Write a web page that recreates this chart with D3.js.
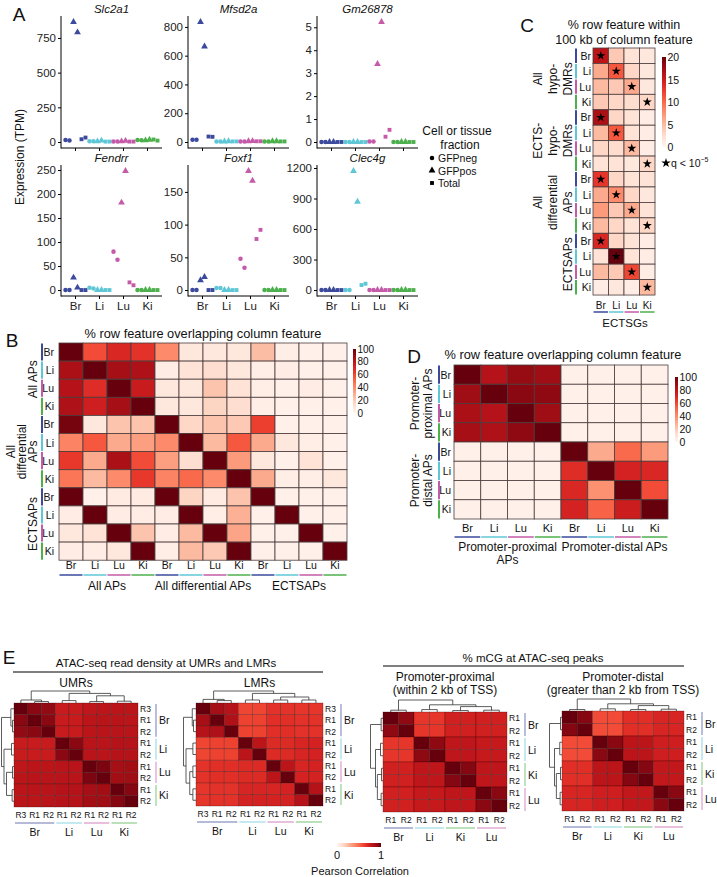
<!DOCTYPE html>
<html><head><meta charset="utf-8">
<script src="https://cdn.jsdelivr.net/npm/d3@7"></script>
<style>body{margin:0;background:#fff} svg{font-family:"Liberation Sans",Arial,Helvetica,sans-serif}</style>
</head><body><svg id="fig" width="717" height="877"></svg>
<script>
// ---------------- DATA ----------------
const tissues = ["Br","Li","Lu","Ki"];
const tissueColors = {Br:"#3b4a9c", Li:"#5ec7d6", Lu:"#c45aa8", Ki:"#4cb04c"};
const fractions = ["GFPneg","GFPpos","Total"];
const sampleFraction = [0,0,1,1,2,2];   // two replicates of each fraction per tissue
const genes = ["Slc2a1","Mfsd2a","Gm26878","Fendrr","Foxf1","Clec4g"];
// per tissue: [GFPneg, GFPneg, GFPpos, GFPpos, Total, Total] (TPM)
const exprSlc2a1  = [[15,10,865,790,20,32],[6,5,5,10,3,3],[4,4,5,8,3,3],[14,12,12,16,18,10]];
const exprMfsd2a  = [[15,15,834,664,38,36],[4,4,4,5,4,4],[4,4,5,6,5,5],[4,4,5,5,4,4]];
const exprGm26878 = [[0,0,0,0,0,0],[0,0,0,0,0,0],[0.02,0.02,3.4,5.23,0.23,0.53],[0,0,0,0,0,0]];
const exprFendrr  = [[0,0,26,5,0,0],[5,3,0,0,0,0],[80,63,182,248,16,10],[0,0,0,0,0,0]];
const exprFoxf1   = [[0,0,15,20,0,0],[3,3,0,0,0,0],[48,34,182,167,78,92],[0,0,0,0,0,0]];
const exprClec4g  = [[0,0,0,0,0,0],[0,0,1171,869,49,62],[0,0,0,0,0,0],[0,0,0,0,0,0]];
const exprTicks = [[0,250,500,750],[0,200,400,600,800],[0,1,2,3,4,5],[0,50,100,150,200,250],[0,50,100,150],[0,300,600,900,1200]];

// Panel B (% row feature overlapping column feature)
const bGroups = ["All APs","All differential APs","ECTSAPs"];
const bValues = [
  [100,58,70,66, 40,8,8,8, 24,4,3,3],
  [85,100,86,84, 5,10,12,8, 4,5,3,3],
  [82,68,100,76, 8,8,22,10, 4,3,5,3],
  [84,74,86,100, 8,8,16,12, 4,3,3,3],
  [97,8,22,22, 100,15,22,20, 62,3,3,3],
  [42,55,30,34, 40,100,25,55, 30,8,4,3],
  [64,30,85,58, 34,12,100,35, 8,3,10,3],
  [46,25,40,64, 42,50,40,100, 30,4,4,8],
  [100,3,6,6, 100,16,6,22, 100,3,3,3],
  [5,100,5,5, 5,100,4,28, 3,100,3,3],
  [8,10,100,22, 5,25,100,32, 3,3,100,3],
  [5,5,8,100, 4,25,20,100, 3,3,3,100]
];
const bTicks = [0,20,40,60,80,100];

// Panel C (% row feature within 100 kb of column feature), columns = ECTSGs
const cValues = [
  [16,4,2,1.5],[6,11,3,1.5],[5,4,6,1.5],[4,3,2.5,3],
  [17,3,2,1],[5,11,2,1],[3,2.5,5,1],[2,2,1.5,3],
  [13,3,2,2],[6,8,3,1.5],[7,4,6,2],[5,3,2,3],
  [14,3,2,1],[2,20,2,1],[5,4,12,1],[1,1.5,1,5]
];
const cStars = [[0,0],[1,1],[2,2],[3,3],[4,0],[5,1],[6,2],[7,3],[8,0],[9,1],[10,2],[11,3],[12,0],[13,1],[14,2],[15,3]];
const cTicks = [0,5,10,15,20];

// Panel D
const dValues = [
  [100,82,90,88, 3,3,3,3],
  [88,100,93,92, 3,3,3,3],
  [85,82,100,88, 3,3,3,3],
  [86,84,92,100, 3,3,3,3],
  [3,3,3,3, 100,30,50,35],
  [3,3,3,3, 68,100,72,70],
  [3,3,3,3, 70,38,100,58],
  [3,3,3,3, 72,52,75,100]
];
const dTicks = [0,20,40,60,80,100];

// Panel E (Pearson correlations)
const umrLabels = ["R3","R1","R2","R1","R2","R1","R2","R1","R2"];
const umrGroups = [["Br",0,2],["Li",3,4],["Lu",5,6],["Ki",7,8]];
const umrCorr = [
  [1.00,0.93,0.91,0.76,0.76,0.79,0.80,0.80,0.80],
  [0.93,1.00,0.93,0.76,0.76,0.80,0.81,0.81,0.80],
  [0.91,0.93,1.00,0.76,0.76,0.80,0.81,0.81,0.81],
  [0.76,0.76,0.76,1.00,0.93,0.81,0.81,0.82,0.82],
  [0.76,0.76,0.76,0.93,1.00,0.81,0.81,0.82,0.82],
  [0.79,0.80,0.80,0.81,0.81,1.00,0.96,0.86,0.87],
  [0.80,0.81,0.81,0.81,0.81,0.96,1.00,0.87,0.88],
  [0.80,0.81,0.81,0.82,0.82,0.86,0.87,1.00,0.94],
  [0.80,0.80,0.81,0.82,0.82,0.87,0.88,0.94,1.00]
];
const lmrCorr = [
  [1.00,0.86,0.82,0.60,0.60,0.66,0.66,0.65,0.65],
  [0.86,1.00,0.84,0.61,0.61,0.67,0.67,0.66,0.66],
  [0.82,0.84,1.00,0.61,0.61,0.67,0.67,0.66,0.66],
  [0.60,0.61,0.61,1.00,0.80,0.69,0.69,0.71,0.72],
  [0.60,0.61,0.61,0.80,1.00,0.69,0.69,0.71,0.72],
  [0.66,0.67,0.67,0.69,0.69,1.00,0.80,0.71,0.72],
  [0.66,0.67,0.67,0.69,0.69,0.80,1.00,0.72,0.72],
  [0.65,0.66,0.66,0.71,0.71,0.71,0.72,1.00,0.82],
  [0.65,0.66,0.66,0.72,0.72,0.72,0.72,0.82,1.00]
];
const mcgLabels = ["R1","R2","R1","R2","R1","R2","R1","R2"];
const mcgGroups = [["Br",0,1],["Li",2,3],["Ki",4,5],["Lu",6,7]];
const proxCorr = [
  [1.00,0.92,0.65,0.65,0.73,0.73,0.73,0.73],
  [0.92,1.00,0.65,0.65,0.73,0.73,0.73,0.73],
  [0.65,0.65,1.00,0.92,0.79,0.79,0.77,0.77],
  [0.65,0.65,0.92,1.00,0.79,0.79,0.77,0.77],
  [0.73,0.73,0.79,0.79,1.00,0.94,0.79,0.79],
  [0.73,0.73,0.79,0.79,0.94,1.00,0.79,0.79],
  [0.73,0.73,0.77,0.77,0.79,0.79,1.00,0.93],
  [0.73,0.73,0.77,0.77,0.79,0.79,0.93,1.00]
];
const distCorr = [
  [1.00,0.94,0.58,0.58,0.67,0.67,0.71,0.71],
  [0.94,1.00,0.58,0.58,0.67,0.67,0.71,0.71],
  [0.58,0.58,1.00,0.93,0.80,0.80,0.74,0.74],
  [0.58,0.58,0.93,1.00,0.80,0.80,0.74,0.74],
  [0.67,0.67,0.80,0.80,1.00,0.94,0.78,0.78],
  [0.67,0.67,0.80,0.80,0.94,1.00,0.78,0.78],
  [0.71,0.71,0.74,0.74,0.78,0.78,1.00,0.93],
  [0.71,0.71,0.74,0.74,0.78,0.78,0.93,1.00]
];
// dendrograms: leaves = indices, nodes = {h, c:[left,right]}
const umrTree = {h:1, c:[{h:0.25,c:[0,{h:0.12,c:[1,2]}]},{h:0.8,c:[{h:0.2,c:[3,4]},{h:0.6,c:[{h:0.12,c:[5,6]},{h:0.15,c:[7,8]}]}]}]};
const lmrTree = {h:1, c:[{h:0.3,c:[0,{h:0.2,c:[1,2]}]},{h:0.8,c:[{h:0.25,c:[3,4]},{h:0.5,c:[{h:0.25,c:[5,6]},{h:0.25,c:[7,8]}]}]}]};
const proxTree = {h:1, c:[{h:0.15,c:[0,1]},{h:0.6,c:[{h:0.2,c:[2,3]},{h:0.45,c:[{h:0.12,c:[4,5]},{h:0.15,c:[6,7]}]}]}]};
const distTree = {h:1, c:[{h:0.12,c:[0,1]},{h:0.6,c:[{h:0.18,c:[2,3]},{h:0.45,c:[{h:0.12,c:[4,5]},{h:0.15,c:[6,7]}]}]}]};

// ---------------- HELPERS ----------------
const fig = d3.select("#fig");
const defs = fig.append("defs");
const FONT = '"Liberation Sans",Arial,Helvetica,sans-serif';
function txt(g, x, y, s, o = {}) {
  const t = g.append("text").attr("x", x).attr("y", y).text(s)
    .attr("font-size", o.size || 10).attr("text-anchor", o.anchor || "middle")
    .attr("dominant-baseline", o.baseline || "central").attr("fill", o.fill || "#111");
  if (o.italic) t.attr("font-style", "italic");
  if (o.rotate) t.attr("transform", `rotate(${o.rotate},${x},${y})`);
  return t;
}
function line(g, x1, y1, x2, y2, col, w, op) {
  return g.append("line").attr("x1", x1).attr("y1", y1).attr("x2", x2).attr("y2", y2)
    .attr("stroke", col).attr("stroke-width", w).attr("stroke-opacity", op == null ? 1 : op);
}
function gradient(id, vertical) {
  const lg = defs.append("linearGradient").attr("id", id);
  if (vertical) lg.attr("x1", 0).attr("y1", 1).attr("x2", 0).attr("y2", 0);
  else lg.attr("x1", 0).attr("y1", 0).attr("x2", 1).attr("y2", 0);
  d3.range(0, 1.0001, 0.05).forEach(t => lg.append("stop").attr("offset", t).attr("stop-color", d3.interpolateReds(t)));
}
gradient("gv", true); gradient("gh", false);

function matrix(g, data, x0, y0, cw, ch, color, stroke, sw, sop) {
  const nr = data.length, nc = data[0].length;
  const xs = d3.scaleBand().domain(d3.range(nc)).range([x0, x0 + cw * nc]);
  const ys = d3.scaleBand().domain(d3.range(nr)).range([y0, y0 + ch * nr]);
  const cells = data.flatMap((row, i) => row.map((v, j) => ({i, j, v})));
  g.append("g").selectAll("rect").data(cells).join("rect")
    .attr("x", d => xs(d.j)).attr("y", d => ys(d.i))
    .attr("width", xs.bandwidth()).attr("height", ys.bandwidth())
    .attr("fill", d => color(d.v)).attr("stroke", stroke).attr("stroke-width", sw)
    .attr("stroke-opacity", sop == null ? 1 : sop);
  return {xs, ys};
}
function colorbar(g, x, yTop, yBot, w, ticks, maxV, size) {
  g.append("rect").attr("x", x).attr("y", yTop).attr("width", w).attr("height", yBot - yTop).attr("fill", "url(#gv)");
  const s = d3.scaleLinear().domain([0, maxV]).range([yBot, yTop]);
  ticks.forEach(t => txt(g, x + w + 1.5, s(t), t, {anchor: "start", size: size || 10}));
}

// ---------------- PANEL A ----------------
const gA = fig.append("g");
txt(gA, 19, 14, "A", {size: 19});
const exprAll = [exprSlc2a1, exprMfsd2a, exprGm26878, exprFendrr, exprFoxf1, exprClec4g];
const colX = [61, 188, 317], plotW = 101;
const rowY = [[16, 148], [165, 296]];
const symTypes = [d3.symbolCircle, d3.symbolTriangle, d3.symbolSquare];
const symSizes = [16, 20, 15];
genes.forEach((gene, gi) => {
  const r = Math.floor(gi / 3), c = gi % 3;
  const x0 = colX[c], [yt, yb] = rowY[r];
  const vals = exprAll[gi];
  const mx = d3.max(vals.flat());
  const pad = mx * 0.05;
  const y = d3.scaleLinear().domain([-pad, mx + pad]).range([yb, yt]);
  const xb = d3.scaleBand().domain(tissues).range([x0 + 2.5, x0 + plotW - 2.5]);
  const xi = d3.scalePoint().domain(d3.range(6)).range([0, xb.bandwidth()]).padding(0.5);
  const g = gA.append("g");
  // axes
  const gy = g.append("g").attr("transform", `translate(${x0},0)`)
    .call(d3.axisLeft(y).tickValues(exprTicks[gi]).tickFormat(d3.format("d")).tickSize(3).tickSizeOuter(0).tickPadding(2));
  gy.select(".domain").remove();
  gy.attr("font-size", 11.5).attr("font-family", FONT);
  gy.selectAll("text").attr("fill", "#222");
  const gx = g.append("g").attr("transform", `translate(0,${yb})`)
    .call(d3.axisBottom(xb).tickSize(3).tickSizeOuter(0).tickPadding(3));
  gx.select(".domain").remove();
  gx.attr("font-size", 11.5).attr("font-family", FONT);
  gx.selectAll("text").attr("fill", "#222");
  if (r === 0) gx.selectAll("text").remove();
  line(g, x0, yt, x0, yb + 0.5, "#000", 1);
  line(g, x0, yb, x0 + plotW, yb, "#000", 1);
  txt(g, x0 + plotW / 2, yt - 7, gene, {italic: true, size: 11.5});
  // points
  const pts = vals.flatMap((arr, ti) => arr.map((v, si) => ({t: tissues[ti], si, v})));
  g.selectAll("path.pt").data(pts).join("path").attr("class", "pt")
    .attr("transform", d => `translate(${xb(d.t) + xi(d.si)},${y(d.v)})`)
    .attr("d", d => d3.symbol().type(symTypes[sampleFraction[d.si]]).size(symSizes[sampleFraction[d.si]])())
    .attr("fill", d => tissueColors[d.t]);
});
txt(gA, 20, 157, "Expression (TPM)", {rotate: -90, size: 12});
// legend
txt(gA, 457, 131, "Cell or tissue", {size: 12});
txt(gA, 460, 145, "fraction", {size: 12});
fractions.forEach((f, i) => {
  const yy = 158 + i * 12.5;
  gA.append("path").attr("transform", `translate(432,${yy})`)
    .attr("d", d3.symbol().type(symTypes[i]).size(symSizes[i])()).attr("fill", "#000");
  txt(gA, 438, yy, f, {anchor: "start", size: 10.5});
});

// ---------------- PANEL C ----------------
const gC = fig.append("g");
txt(gC, 527, 25, "C", {size: 19});
txt(gC, 624, 25, "% row feature within", {size: 12.5});
txt(gC, 624, 40, "100 kb of column feature", {size: 12.5});
const cColor = d3.scaleSequential(d3.interpolateReds).domain([0, 20]);
const cM = matrix(gC, cValues, 593, 48, 15.5, 15.44, cColor, "#4a3c3c", 0.8);
gC.append("g").selectAll("path").data(cStars).join("path")
  .attr("transform", d => `translate(${cM.xs(d[1]) + cM.xs.bandwidth() / 2},${cM.ys(d[0]) + cM.ys.bandwidth() / 2})`)
  .attr("d", d3.symbol().type(d3.symbolStar).size(26)()).attr("fill", "#000");
cValues.forEach((row, i) => {
  const t = tissues[i % 4];
  txt(gC, 591, cM.ys(i) + cM.ys.bandwidth() / 2, t, {anchor: "end", size: 10.5});
  line(gC, 576, cM.ys(i) + 0.5, 576, cM.ys(i) + cM.ys.bandwidth() - 0.5, tissueColors[t], 2);
});
tissues.forEach((t, j) => {
  const cx = cM.xs(j) + cM.xs.bandwidth() / 2;
  txt(gC, cx, 305, t, {size: 10});
  line(gC, cM.xs(j) + 0.5, 312, cM.xs(j) + cM.xs.bandwidth() - 0.5, 312, tissueColors[t], 1.5);
});
txt(gC, 625, 323, "ECTSGs", {size: 11.5});
const cGroupLines = [["All", "hypo-", "DMRs"], ["ECTS-", "hypo-", "DMRs"], ["All", "differential", "APs"], ["ECTSAPs"]];
cGroupLines.forEach((ls, k) => {
  const cy = cM.ys(4 * k) + 2 * cM.ys.bandwidth();
  ls.forEach((s, li) => txt(gC, 568 - (ls.length - 1 - li) * 15, cy, s, {rotate: -90, size: 12}));
});
colorbar(gC, 662, 57, 147, 4, cTicks, 20, 10.5);
gC.append("path").attr("transform", "translate(666,163)").attr("d", d3.symbol().type(d3.symbolStar).size(28)()).attr("fill", "#000");
const qt = txt(gC, 671, 163, "q < 10", {anchor: "start", size: 10.5});
qt.append("tspan").attr("font-size", 7).attr("dy", -4).text("−5");

// ---------------- PANEL B ----------------
const gB = fig.append("g");
txt(gB, 12, 340, "B", {size: 19});
txt(gB, 203, 333, "% row feature overlapping column feature", {size: 12.8});
const pctColor = d3.scaleSequential(d3.interpolateReds).domain([0, 100]);
const bM = matrix(gB, bValues, 59, 343, 24, 18.1, pctColor, "#4a3c3c", 0.8);
bValues.forEach((row, i) => {
  const t = tissues[i % 4];
  txt(gB, 54, bM.ys(i) + bM.ys.bandwidth() / 2, t, {anchor: "end", size: 10.5});
  line(gB, 42, bM.ys(i) + 0.5, 42, bM.ys(i) + bM.ys.bandwidth() - 0.5, tissueColors[t], 2);
});
bValues[0].forEach((v, j) => {
  const t = tissues[j % 4];
  txt(gB, bM.xs(j) + bM.xs.bandwidth() / 2, 565, t, {size: 10.5});
  line(gB, bM.xs(j) + 0.5, 575, bM.xs(j) + bM.xs.bandwidth() - 0.5, 575, tissueColors[t], 1.5);
});
bGroups.forEach((gname, k) => txt(gB, bM.xs(4 * k) + 2 * bM.xs.bandwidth(), 586, gname, {size: 12}));
const bRowGroups = [["All APs"], ["All", "differential", "APs"], ["ECTSAPs"]];
bRowGroups.forEach((ls, k) => {
  const cy = bM.ys(4 * k) + 2 * bM.ys.bandwidth();
  ls.forEach((s, li) => txt(gB, 33 - (ls.length - 1 - li) * 11, cy, s, {rotate: -90, size: 12}));
});
colorbar(gB, 353, 349, 413, 3, bTicks, 100, 10);

// ---------------- PANEL D ----------------
const gD = fig.append("g");
txt(gD, 414, 356, "D", {size: 19});
txt(gD, 563, 354, "% row feature overlapping column feature", {size: 12.8});
const dM = matrix(gD, dValues, 454, 365, 26.75, 19.25, pctColor, "#4a3c3c", 0.8);
dValues.forEach((row, i) => {
  const t = tissues[i % 4];
  txt(gD, 451, dM.ys(i) + dM.ys.bandwidth() / 2, t, {anchor: "end", size: 10.5});
  line(gD, 439, dM.ys(i) + 0.5, 439, dM.ys(i) + dM.ys.bandwidth() - 0.5, tissueColors[t], 2);
});
dValues[0].forEach((v, j) => {
  const t = tissues[j % 4];
  txt(gD, dM.xs(j) + dM.xs.bandwidth() / 2, 528, t, {size: 11});
  line(gD, dM.xs(j) + 0.5, 537, dM.xs(j) + dM.xs.bandwidth() - 0.5, 537, tissueColors[t], 1.5);
});
txt(gD, dM.xs(0) + 2 * dM.xs.bandwidth(), 547, "Promoter-proximal", {size: 12});
txt(gD, dM.xs(0) + 2 * dM.xs.bandwidth(), 560, "APs", {size: 12});
txt(gD, dM.xs(4) + 2 * dM.xs.bandwidth(), 547, "Promoter-distal APs", {size: 12});
[["Promoter-", "proximal APs"], ["Promoter-", "distal APs"]].forEach((ls, k) => {
  const cy = dM.ys(4 * k) + 2 * dM.ys.bandwidth();
  ls.forEach((s, li) => txt(gD, 415 + li * 13, cy, s, {rotate: -90, size: 12}));
});
colorbar(gD, 675, 377, 442, 3, dTicks, 100, 10.5);

// ---------------- PANEL E ----------------
const gE = fig.append("g");
txt(gE, 9, 657, "E", {size: 19});
txt(gE, 166, 663, "ATAC-seq read density at UMRs and LMRs", {size: 11.5});
line(gE, 13, 672, 323, 672, "#555", 1.5);
txt(gE, 533, 658, "% mCG at ATAC-seq peaks", {size: 11.5});
line(gE, 383, 666, 684, 666, "#555", 1.5);
const eColor = d3.scaleSequential(d3.interpolateReds).domain([0, 1]);

function dendro(g, tree, pos, base, depth, orient) {
  function walk(n) {
    if (typeof n === "number") return {p: pos(n), h: 0};
    const a = walk(n.c[0]), b = walk(n.c[1]);
    const p = (a.p + b.p) / 2;
    const H = base - n.h * depth, Ha = base - a.h * depth, Hb = base - b.h * depth;
    if (orient === "top") {
      line(g, a.p, H, b.p, H, "#333", 0.8);
      line(g, a.p, H, a.p, Ha, "#333", 0.8);
      line(g, b.p, H, b.p, Hb, "#333", 0.8);
    } else {
      line(g, H, a.p, H, b.p, "#333", 0.8);
      line(g, H, a.p, Ha, a.p, "#333", 0.8);
      line(g, H, b.p, Hb, b.p, "#333", 0.8);
    }
    return {p, h: n.h};
  }
  walk(tree);
}

function corrPanel(o) {
  const g = gE.append("g");
  const n = o.data.length;
  const M = matrix(g, o.data, o.x, o.y, o.w / n, o.h / n, eColor, "#2a0505", 0.6, 0.45);
  const cx = i => M.xs(i) + M.xs.bandwidth() / 2, cy = i => M.ys(i) + M.ys.bandwidth() / 2;
  dendro(g, o.tree, cx, o.y, 12, "top");
  dendro(g, o.tree, cy, o.x, 12.5, "left");
  o.labels.forEach((s, i) => {
    txt(g, o.x + o.w + 2, cy(i), s, {anchor: "start", size: 8.5});
    txt(g, cx(i), o.y + o.h + 8, s, {size: 8.5});
  });
  o.groups.forEach(([name, a, b]) => {
    const col = tissueColors[name];
    line(g, o.x + o.w + 18, M.ys(a) + 1, o.x + o.w + 18, M.ys(b) + M.ys.bandwidth() - 1, col, 1.2, 0.6);
    txt(g, o.x + o.w + 21, (cy(a) + cy(b)) / 2, name, {anchor: "start", size: 10.5});
    line(g, M.xs(a) + 1, o.y + o.h + 16, M.xs(b) + M.xs.bandwidth() - 1, o.y + o.h + 16, col, 1.5, 0.5);
    txt(g, (cx(a) + cx(b)) / 2, o.y + o.h + 24.5, name, {size: 10.5});
  });
  o.titles.forEach(([s, yy]) => txt(g, o.x + o.w / 2, yy, s, {size: 12}));
}
corrPanel({x: 14, y: 703, w: 124, h: 104, data: umrCorr, tree: umrTree, labels: umrLabels, groups: umrGroups, titles: [["UMRs", 683]]});
corrPanel({x: 196, y: 703, w: 127, h: 103, data: lmrCorr, tree: lmrTree, labels: umrLabels, groups: umrGroups, titles: [["LMRs", 683]]});
corrPanel({x: 383, y: 712, w: 124, h: 100, data: proxCorr, tree: proxTree, labels: mcgLabels, groups: mcgGroups, titles: [["Promoter-proximal", 677], ["(within 2 kb of TSS)", 690]]});
corrPanel({x: 562, y: 711, w: 122, h: 100, data: distCorr, tree: distTree, labels: mcgLabels, groups: mcgGroups, titles: [["Promoter-distal", 677], ["(greater than 2 kb from TSS)", 690]]});
// E color key
gE.append("rect").attr("x", 337).attr("y", 843).attr("width", 44).attr("height", 4).attr("fill", "url(#gh)");
txt(gE, 337, 855, "0", {size: 11});
txt(gE, 381, 855, "1", {size: 11});
txt(gE, 360, 871, "Pearson Correlation", {size: 11});
</script></body></html>
